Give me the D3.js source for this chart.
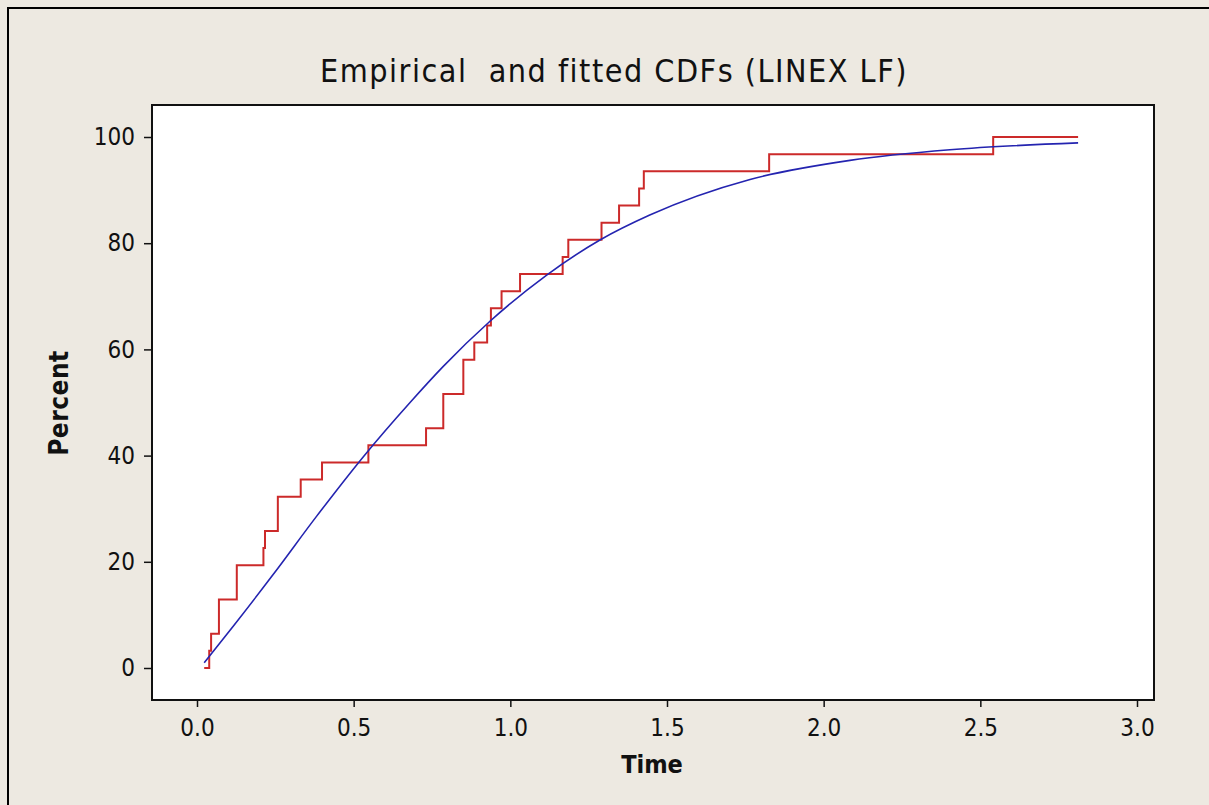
<!DOCTYPE html>
<html>
<head>
<meta charset="utf-8">
<script src="https://cdn.jsdelivr.net/npm/d3@7"></script>
<style>
  html, body { margin: 0; padding: 0; background: #ede9e1; }
  svg { display: block; }
  text { font-family: "DejaVu Sans Condensed", "DejaVu Sans", sans-serif; fill: #111; }
</style>
</head>
<body>
<script>
// empirical CDF: sorted observed times (n = 31)
var obsTimes = [0.039, 0.045, 0.070, 0.070, 0.127, 0.127, 0.212, 0.217, 0.258, 0.258,
  0.331, 0.399, 0.547, 0.731, 0.786, 0.786, 0.850, 0.850, 0.885, 0.926,
  0.938, 0.972, 1.031, 1.167, 1.185, 1.291, 1.347, 1.411, 1.426, 1.826, 2.541];
var empStart = 0.023;
var empEnd = 2.812;

// fitted CDF
var fitTime = [0.023, 0.12, 0.243, 0.382, 0.531, 0.680, 0.786, 0.935, 1.116,
  1.286, 1.445, 1.765, 2.084, 2.403, 2.812];
var fitPct = [1.0, 8.2, 17.6, 28.6, 39.8, 50.0, 56.8, 65.3, 74.0,
  80.6, 85.3, 92.0, 95.6, 97.6, 98.9];

var xTicks = [0, 0.5, 1, 1.5, 2, 2.5, 3];
var yTicks = [0, 20, 40, 60, 80, 100];

var width = 1209, height = 805;
var frame = {left: 152, top: 105, right: 1154, bottom: 700};

var svg = d3.select("body").append("svg")
  .attr("width", width)
  .attr("height", height);

// outer border (left/top only visible)
svg.append("path")
  .attr("d", "M8," + height + "V8H" + width)
  .attr("fill", "none")
  .attr("stroke", "#000")
  .attr("stroke-width", 2);

var x = d3.scaleLinear().domain([0, 3]).range([197, 1137]);
var y = d3.scaleLinear().domain([0, 100]).range([668, 137]);

svg.append("rect")
  .attr("x", frame.left)
  .attr("y", frame.top)
  .attr("width", frame.right - frame.left)
  .attr("height", frame.bottom - frame.top)
  .attr("fill", "#fff")
  .attr("stroke", "#111")
  .attr("stroke-width", 2);

// x axis
var xAxis = svg.append("g")
  .attr("transform", "translate(0," + frame.bottom + ")")
  .call(d3.axisBottom(x).tickValues(xTicks).tickFormat(d3.format(".1f")).tickSize(7).tickPadding(12));
xAxis.select(".domain").remove();
xAxis.selectAll("line").attr("stroke", "#111").attr("stroke-width", 1.5);
xAxis.selectAll("text").style("font-size", "24px").attr("fill", "#222")
  .style("font-family", "'DejaVu Sans Condensed', 'DejaVu Sans', sans-serif");

// y axis
var yAxis = svg.append("g")
  .attr("transform", "translate(" + frame.left + ",0)")
  .call(d3.axisLeft(y).tickValues(yTicks).tickSize(8).tickPadding(9));
yAxis.select(".domain").remove();
yAxis.selectAll("line").attr("stroke", "#111").attr("stroke-width", 1.5);
yAxis.selectAll("text").style("font-size", "24px").attr("fill", "#222")
  .style("font-family", "'DejaVu Sans Condensed', 'DejaVu Sans', sans-serif");

// title and axis labels
svg.append("text")
  .attr("x", 614)
  .attr("y", 82)
  .attr("text-anchor", "middle")
  .attr("xml:space", "preserve")
  .style("font-size", "32px")
  .style("letter-spacing", "1.5px")
  .style("white-space", "pre")
  .text("Empirical  and fitted CDFs (LINEX LF)");

svg.append("text")
  .attr("x", 652)
  .attr("y", 773)
  .attr("text-anchor", "middle")
  .style("font-size", "25px")
  .style("font-weight", "bold")
  .text("Time");

svg.append("text")
  .attr("transform", "translate(68,403) rotate(-90)")
  .attr("text-anchor", "middle")
  .style("font-size", "26px")
  .style("font-weight", "bold")
  .style("letter-spacing", "0.5px")
  .text("Percent");

// empirical step line
var n = obsTimes.length;
var empPts = [[empStart, 0]];
obsTimes.forEach(function (t, i) {
  empPts.push([t, (i + 1) / n * 100]);
});
empPts.push([empEnd, 100]);

svg.append("path")
  .datum(empPts)
  .attr("d", d3.line()
    .x(function (d) { return x(d[0]); })
    .y(function (d) { return y(d[1]); })
    .curve(d3.curveStepAfter))
  .attr("fill", "none")
  .attr("stroke", "#cc2a2a")
  .attr("stroke-width", 2);

// fitted curve
var fitPts = fitTime.map(function (t, i) { return [t, fitPct[i]]; });
svg.append("path")
  .datum(fitPts)
  .attr("d", d3.line()
    .x(function (d) { return x(d[0]); })
    .y(function (d) { return y(d[1]); })
    .curve(d3.curveMonotoneX))
  .attr("fill", "none")
  .attr("stroke", "#2424b0")
  .attr("stroke-width", 1.6);
</script>
</body>
</html>
